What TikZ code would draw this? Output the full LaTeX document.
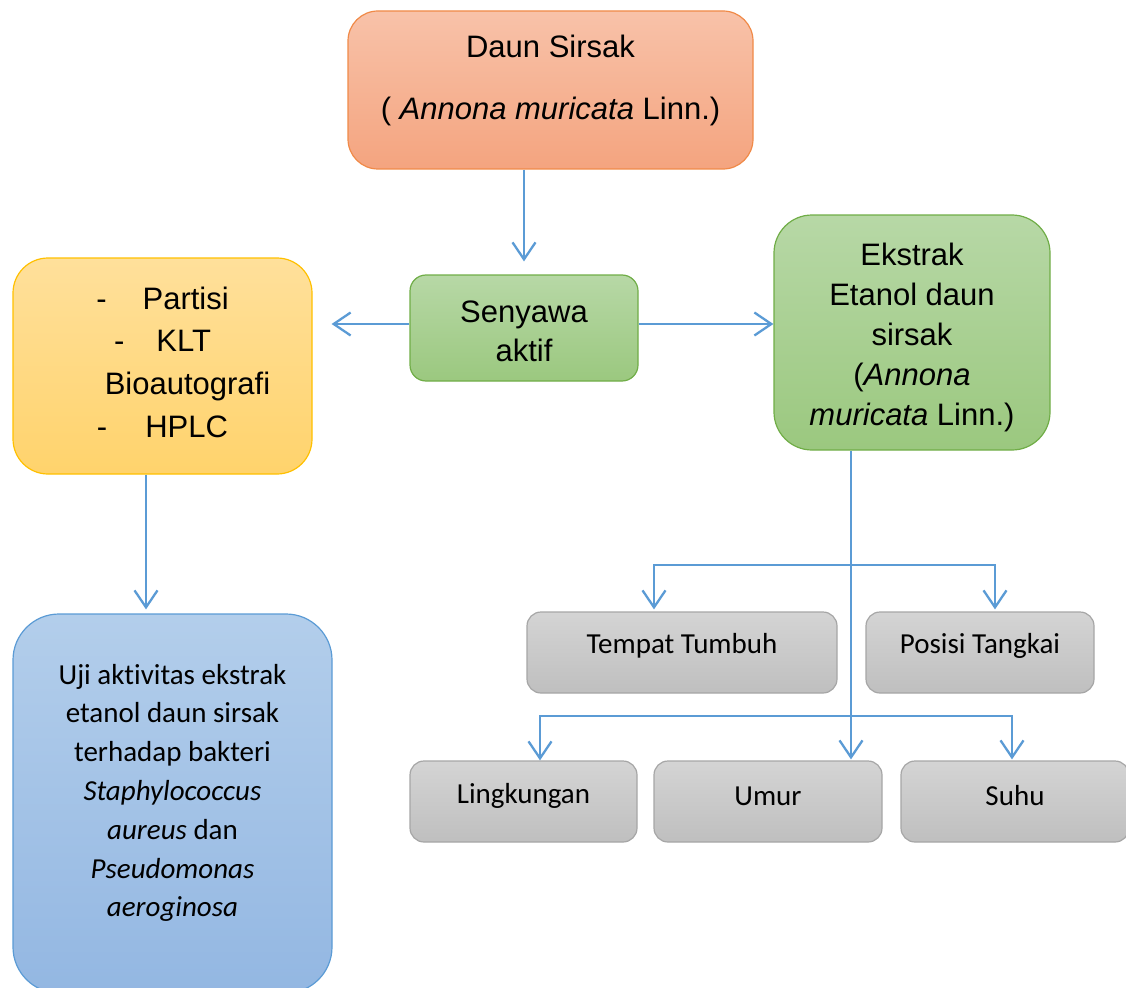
\documentclass[tikz,border=0pt]{standalone}
\usepackage{fontspec}
\setmainfont{Liberation Sans}
\newfontfamily\carl[Ligatures={NoCommon}]{Carlito}
\usetikzlibrary{arrows.meta}
\definecolor{or1}{HTML}{F8C2A9}
\definecolor{or2}{HTML}{F4A47F}
\definecolor{orline}{HTML}{F08A48}
\definecolor{gr1}{HTML}{B7D8A6}
\definecolor{gr2}{HTML}{9BC87F}
\definecolor{grline}{HTML}{70AD47}
\definecolor{ye1}{HTML}{FFE09B}
\definecolor{ye2}{HTML}{FFD36C}
\definecolor{yeline}{HTML}{FFC000}
\definecolor{bl1}{HTML}{B3CEEB}
\definecolor{bl2}{HTML}{93B7E2}
\definecolor{blline}{HTML}{5B9BD5}
\definecolor{gy1}{HTML}{D4D4D4}
\definecolor{gy2}{HTML}{BFBFBF}
\definecolor{gyline}{HTML}{A6A6A6}
\definecolor{lineblue}{HTML}{5B9BD5}
\begin{document}
\begin{tikzpicture}[x=1pt,y=-1pt,
  box/.style={draw, line width=1.2pt, inner sep=0pt},
  orangebox/.style={box, draw=orline, top color=or1, bottom color=or2, rounded corners=30pt},
  greenbox/.style={box, draw=grline, top color=gr1, bottom color=gr2},
  yellowbox/.style={box, draw=yeline, top color=ye1, bottom color=ye2, rounded corners=35pt},
  bluebox/.style={box, draw=blline, top color=bl1, bottom color=bl2, rounded corners=46pt},
  graybox/.style={box, draw=gyline, top color=gy1, bottom color=gy2, rounded corners=14pt, minimum height=81pt},
  arialtxt/.style={align=center, inner sep=0pt},
  calitxt/.style={align=center, inner sep=0pt, font=\carl\fontsize{29}{38.8}\selectfont},
  conn/.style={draw=lineblue, line width=2.3pt, -{Straight Barb[length=17pt,width=23pt]}},
  thinconn/.style={draw=lineblue, line width=1.2pt}
]
\useasboundingbox (0,0) rectangle (1126,987);
\clip (0,0) rectangle (1126,987);

% boxes
\node[orangebox, minimum width=405pt, minimum height=158pt] (daun) at (550.5,90) {};
\node[arialtxt, font=\fontsize{31}{62}\selectfont] (dauntxt) at (550.5,80) {Daun Sirsak\\( \textit{Annona muricata} Linn.)};

\node[greenbox, rounded corners=16pt, minimum width=228pt, minimum height=106pt] (senyawa) at (524,328) {};
\node[arialtxt, font=\fontsize{31}{39}\selectfont] (senyawatxt) at (524,331) {Senyawa\\aktif};

\node[yellowbox, minimum width=299pt, minimum height=216pt] (partisi) at (162.5,366) {};
\node[arialtxt, font=\fontsize{31}{42.7}\selectfont] (partisitxt) at (162.5,362)
  {-\hspace{36pt}Partisi\\-\hspace{32pt}KLT\\\hspace*{50pt}Bioautografi\\-\hspace{38pt}HPLC};

\node[greenbox, rounded corners=38pt, minimum width=276pt, minimum height=235pt] (ekstrak) at (912,332.5) {};
\node[arialtxt, font=\fontsize{31}{40}\selectfont] (ekstraktxt) at (912,337)
  {Ekstrak\\Etanol daun\\sirsak\\(\textit{Annona}\\\textit{muricata} Linn.)};

\node[bluebox, minimum width=319pt, minimum height=379pt] (uji) at (172.5,803.5) {};
\node[calitxt] (ujitxt) at (172.5,793)
  {Uji aktivitas ekstrak\\etanol daun sirsak\\terhadap bakteri\\\textit{Staphylococcus}\\\textit{aureus} dan\\\textit{Pseudomonas}\\\textit{aeroginosa}};

\node[graybox, minimum width=310pt] (tempat) at (682,652.5) {};
\node[calitxt] (tempattxt) at (682,646) {Tempat Tumbuh};
\node[graybox, minimum width=228pt] (posisi) at (980,652.5) {};
\node[calitxt] (posisitxt) at (980,646) {Posisi Tangkai};
\node[graybox, minimum width=227pt] (lingk) at (523.5,801.5) {};
\node[calitxt] (lingktxt) at (523.5,796) {Lingkungan};
\node[graybox, minimum width=228pt] (umur) at (768,801.5) {};
\node[calitxt] (umurtxt) at (768,796) {Umur};
\node[graybox, minimum width=228pt] (suhu) at (1015,801.5) {};
\node[calitxt] (suhutxt) at (1015,796) {Suhu};

% connectors
\draw[conn, shorten >=13pt] (daun.south -| senyawa.north) -- (senyawa.north);
\draw[conn, shorten >=19pt] ([yshift=4pt]senyawa.west) -- ([yshift=4pt]partisi.east |- senyawa.west);
\draw[conn] ([yshift=4pt]senyawa.east) -- ([yshift=4pt]ekstrak.west |- senyawa.east);
\draw[conn, shorten >=4pt] ([xshift=-16.5pt]partisi.south) -- ([xshift=-16.5pt]partisi.south |- uji.north);

\coordinate (b1) at (851,565);
\coordinate (b2) at (851,716);
\draw[thinconn] ([xshift=-61pt]ekstrak.south) -- (b1);
\draw[conn, shorten >=2pt] (b1) -| ([xshift=-28pt]tempat.north);
\draw[conn, shorten >=2pt] (b1) -| ([xshift=15pt]posisi.north);
\draw[conn, shorten >=1pt] (b1) -- (b1 |- umur.north);
\draw[conn] (b2) -| ([xshift=16.5pt]lingk.north);
\draw[conn, shorten >=1pt] (b2) -| ([xshift=-3pt]suhu.north);
\end{tikzpicture}
\end{document}
